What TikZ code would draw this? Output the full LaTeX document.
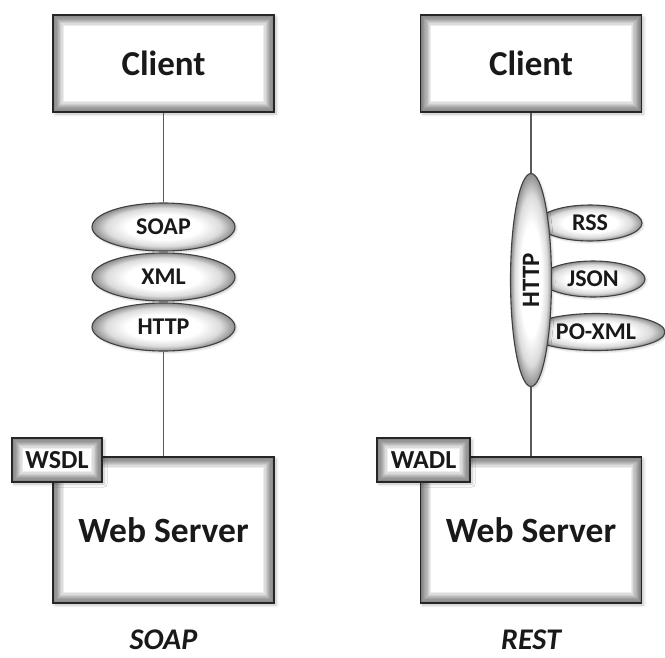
\documentclass[tikz,border=0pt]{standalone}
\usepackage{fontspec}
\setmainfont{Carlito}
\usetikzlibrary{shapes.geometric,shadows.blur}
\pgfdeclareradialshading{ellglow}{\pgfpoint{0bp}{0bp}}{color(0bp)=(white); color(13bp)=(white); color(20bp)=(black!14); color(25bp)=(black!45); color(50bp)=(black!45)}
\tikzset{
  glowbox/.style={rectangle, draw=black!85, line width=1.8pt, fill=white, inner sep=0pt,
    text=black!90,
    blur shadow={shadow xshift=2pt, shadow yshift=-2pt, shadow blur steps=6, shadow opacity=25, shadow blur radius=3pt},
    path picture={\foreach \k in {1,...,9}{\pgfmathsetmacro\lw{2.4*\k}
      \draw[draw=black, draw opacity=0.07, line width=\lw pt] (path picture bounding box.south west) rectangle (path picture bounding box.north east);}}},
  glowell/.style={ellipse, draw=black!75, line width=1.1pt, shade, shading=ellglow, inner sep=0pt, text=black!90,
    blur shadow={shadow xshift=1.5pt, shadow yshift=-1.5pt, shadow blur steps=4, shadow opacity=20, shadow blur radius=2pt}},
  conn/.style={draw=black!65, line width=1.7pt},
  clienttxt/.style={font=\fontsize{35}{38}\selectfont\bfseries},
  srvtxt/.style={font=\fontsize{35.5}{39}\selectfont\bfseries},
  tagtxt/.style={font=\fontsize{26}{29}\selectfont\bfseries},
  soaptxt/.style={font=\fontsize{24}{27}\selectfont\bfseries},
  resttxt/.style={font=\fontsize{24}{27}\selectfont\bfseries},
  vtxt/.style={font=\fontsize{25}{28}\selectfont\bfseries},
  captxt/.style={font=\fontsize{30}{34}\selectfont\bfseries\itshape, text=black!90, inner sep=0pt},
}
\begin{document}
\begin{tikzpicture}[x=1pt,y=-1pt]
\useasboundingbox (0,0) rectangle (665,657);

% Clients
\node[glowbox, minimum width=221pt, minimum height=97pt, clienttxt] (clientL) at (163.5,63.5) {Client};
\node[glowbox, minimum width=221pt, minimum height=97pt, clienttxt] (clientR) at (531,63.5) {Client};

% Web servers
\node[glowbox, minimum width=221pt, minimum height=146pt, srvtxt] (serverL) at (163.5,530) {Web Server};
\node[glowbox, minimum width=221pt, minimum height=146pt, srvtxt] (serverR) at (531,530) {Web Server};

% Tags
\node[glowbox, minimum width=90pt, minimum height=44pt, tagtxt] (wsdl) at (57,460) {WSDL};
\node[glowbox, minimum width=93pt, minimum height=44pt, tagtxt] (wadl) at (423.5,460) {WADL};

% SOAP stack
\node[glowell, minimum width=143pt, minimum height=48pt, soaptxt] (soapE) at (163.5,227) {SOAP};
\node[glowell, minimum width=143pt, minimum height=48pt, soaptxt] (xmlE) at (163.5,277) {XML};
\node[glowell, minimum width=143pt, minimum height=48pt, soaptxt] (httpE) at (163.5,327) {HTTP};

% REST formats (behind HTTP)
\node[glowell, minimum width=104pt, minimum height=36pt, resttxt] (rssE) at (590,223) {RSS};
\node[glowell, minimum width=104pt, minimum height=36pt, resttxt] (jsonE) at (593,279) {JSON};
\node[glowell, minimum width=138pt, minimum height=37pt, resttxt] (poxmlE) at (596,332) {PO-XML};
\node[glowell, minimum width=41pt, minimum height=213pt, vtxt] (httpR) at (531,280) {\rotatebox{90}{HTTP}};

% Connectors
\draw[conn] (clientL.south) -- (soapE.north);
\draw[conn] (httpE.south) -- (serverL.north);
\draw[conn] (clientR.south) -- (httpR.north);
\draw[conn] (httpR.south) -- (serverR.north);

% Captions
\node[captxt] (soapLbl) at (163.5,640) {SOAP};
\node[captxt] (restLbl) at (531,640) {REST};
\end{tikzpicture}
\end{document}
